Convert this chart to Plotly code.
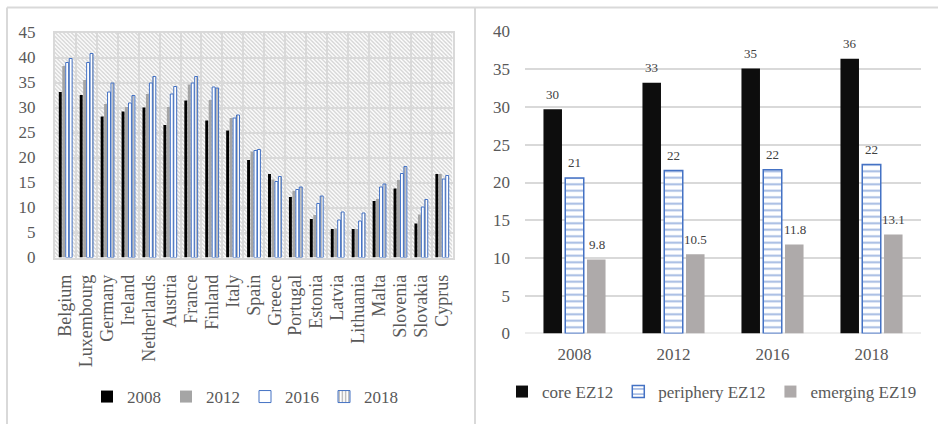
import base64
import plotly.graph_objects as go

# ---------------- data ----------------
countries = ["Belgium", "Luxembourg", "Germany", "Ireland", "Netherlands", "Austria",
             "France", "Finland", "Italy", "Spain", "Greece", "Portugal", "Estonia",
             "Latvia", "Lithuania", "Malta", "Slovenia", "Slovakia", "Cyprus"]
v2008 = [33.1, 32.5, 28.2, 29.2, 30.0, 26.5, 31.4, 27.4, 25.4, 19.5, 16.7, 12.1, 7.7, 5.7, 5.7, 11.3, 13.8, 6.8, 16.7]
v2012 = [38.3, 35.5, 30.7, 30.1, 32.7, 30.1, 34.6, 31.5, 27.9, 21.2, 15.6, 13.3, 8.5, 5.8, 5.7, 11.7, 15.5, 8.6, 16.7]
v2016 = [39.0, 39.0, 33.1, 30.9, 34.9, 32.7, 34.9, 34.1, 27.9, 21.4, 15.2, 13.6, 10.8, 7.5, 7.3, 14.1, 16.8, 10.1, 15.7]
v2018 = [39.8, 40.8, 34.9, 32.4, 36.2, 34.2, 36.2, 33.9, 28.5, 21.6, 16.2, 14.1, 12.3, 9.1, 8.9, 14.7, 18.2, 11.6, 16.4]

years = ["2008", "2012", "2016", "2018"]
core = [29.7, 33.2, 35.1, 36.4]
periphery = [20.6, 21.6, 21.7, 22.4]
emerging = [9.8, 10.5, 11.8, 13.1]

# ---------------- styles ----------------
SERIF = "Liberation Serif, Times New Roman, serif"
TICK = "#595959"
GRID = "#d9d9d9"
BLUE = "#4472c4"

fig = go.Figure()

# left chart
fig.add_bar(x=countries, y=v2008, name="2008", marker=dict(color="#000000", line=dict(width=0)),
            xaxis="x", yaxis="y", legend="legend")
fig.add_bar(x=countries, y=v2012, name="2012", marker=dict(color="#a5a5a5", line=dict(width=0)),
            xaxis="x", yaxis="y", legend="legend")
fig.add_bar(x=countries, y=v2016, name="2016",
            marker=dict(color="#ffffff", line=dict(color=BLUE, width=1)),
            xaxis="x", yaxis="y", legend="legend")
fig.add_bar(x=countries, y=v2018, name="2018",
            marker=dict(color="#ffffff", line=dict(color=BLUE, width=1),
                        pattern=dict(shape="|", fgcolor="#000000", bgcolor="#ffffff",
                                     size=4, solidity=0.25)),
            xaxis="x", yaxis="y", legend="legend")

# right chart
fig.add_bar(x=years, y=core, name="core EZ12", marker=dict(color="#0d0d0d", line=dict(width=0)),
            xaxis="x2", yaxis="y2", legend="legend2")
fig.add_bar(x=years, y=periphery, name="periphery EZ12",
            marker=dict(color="#ffffff", line=dict(color=BLUE, width=1.5),
                        pattern=dict(shape="-", fgcolor=BLUE, bgcolor="#ffffff",
                                     size=6.5, solidity=0.3)),
            xaxis="x2", yaxis="y2", legend="legend2")
fig.add_bar(x=years, y=emerging, name="emerging EZ19",
            marker=dict(color="#aeaaaa", line=dict(width=0)),
            xaxis="x2", yaxis="y2", legend="legend2")

# data labels for right chart (x given as category index)
annotations = []
for vals, fmt, dx in ((core, "{:.0f}", -22), (periphery, "{:.0f}", 0), (emerging, "{:.1f}", 22)):
    for i, v in enumerate(vals):
        annotations.append(dict(x=i, y=v, xref="x2", yref="y2", text=fmt.format(v),
                                showarrow=False, xshift=dx, yshift=15, yanchor="middle",
                                font=dict(family=SERIF, size=13, color="#404040")))

W, H = 938, 424

def px(x):
    return x / W

def py(y):
    return 1 - y / H

L0, L1, T0, B0 = 55, 452.5, 32.5, 257.5

# hatched background for left plot area
sw, sh = int(L1 - L0), int(B0 - T0)
svg = (f'<svg xmlns="http://www.w3.org/2000/svg" width="{sw}" height="{sh}">'
       '<defs><pattern id="h" width="4" height="4" patternUnits="userSpaceOnUse">'
       '<path d="M-1,-1 L5,5 M-1,3 L1,5 M3,-1 L5,1" stroke="#c4c4c4" stroke-width="1"/>'
       '</pattern></defs><rect width="100%" height="100%" fill="url(#h)"/></svg>')
svg_uri = "data:image/svg+xml;base64," + base64.b64encode(svg.encode()).decode()

fig.update_layout(
    width=W, height=H,
    margin=dict(l=0, r=0, t=0, b=0, autoexpand=False),
    paper_bgcolor="#ffffff",
    plot_bgcolor="rgba(0,0,0,0)",
    barmode="group",
    bargap=0.34,
    bargroupgap=0.15,
    showlegend=True,
    font=dict(family=SERIF, color=TICK, size=17),
    xaxis=dict(domain=[px(L0), px(L1)], type="category", tickangle=-90,
               tickmode="linear", tick0=0, dtick=1,
               tickson="boundaries", showgrid=True, gridcolor=GRID, gridwidth=2,
               ticks="", showline=True, linecolor=GRID, linewidth=2,
               tickfont=dict(family=SERIF, size=18, color=TICK), ticklabelstandoff=8,
               anchor="y", mirror=True, automargin=False),
    yaxis=dict(domain=[py(B0), py(T0)], range=[0, 45], dtick=5, showgrid=True,
               gridcolor=GRID, gridwidth=2, zeroline=False, showline=True, linecolor=GRID,
               linewidth=2, mirror=True, ticks="",
               tickfont=dict(family=SERIF, size=17, color=TICK), ticklabelstandoff=14,
               anchor="x", automargin=False),
    xaxis2=dict(domain=[px(525), px(921)], type="category", range=[-0.5, 3.5],
                showgrid=False, ticks="",
                showline=False, tickfont=dict(family=SERIF, size=17, color=TICK),
                ticklabelstandoff=8, anchor="y2", automargin=False),
    yaxis2=dict(domain=[py(333.5), py(31.5)], range=[0, 40], dtick=5, showgrid=True,
                gridcolor=GRID, gridwidth=2, zeroline=False, showline=False, ticks="",
                tickfont=dict(family=SERIF, size=17, color=TICK), ticklabelstandoff=14,
                anchor="x2", automargin=False),
    legend=dict(orientation="h", x=px(245), y=py(397), xanchor="center", yanchor="middle",
                font=dict(family=SERIF, size=17, color=TICK), itemwidth=30,
                bgcolor="rgba(0,0,0,0)", traceorder="normal"),
    legend2=dict(orientation="h", x=px(712), y=py(392), xanchor="center", yanchor="middle",
                 font=dict(family=SERIF, size=17, color=TICK), itemwidth=30,
                 bgcolor="rgba(0,0,0,0)", traceorder="normal"),
    annotations=annotations,
    images=[dict(source=svg_uri, xref="paper", yref="paper", x=px(L0), y=py(T0),
                 sizex=px(L1) - px(L0), sizey=py(T0) - py(B0), xanchor="left", yanchor="top",
                 sizing="stretch", layer="below")],
    shapes=[
        dict(type="line", xref="paper", yref="paper", x0=px(7), x1=1, y0=py(7.5), y1=py(7.5),
             line=dict(color=GRID, width=2)),
        dict(type="line", xref="paper", yref="paper", x0=px(7), x1=px(7), y0=py(7.5), y1=0,
             line=dict(color=GRID, width=2)),
        dict(type="line", xref="paper", yref="paper", x0=px(475), x1=px(475), y0=py(7.5), y1=0,
             line=dict(color=GRID, width=2)),
        # axis baseline for right chart
        dict(type="line", xref="x2 domain", yref="y2", x0=0, x1=1, y0=0, y1=0,
             line=dict(color=GRID, width=2), layer="below"),
    ],
)

fig.write_html("out.html", config={"displayModeBar": False},
               post_script="document.body.style.margin='0';document.body.style.overflow='hidden';")
